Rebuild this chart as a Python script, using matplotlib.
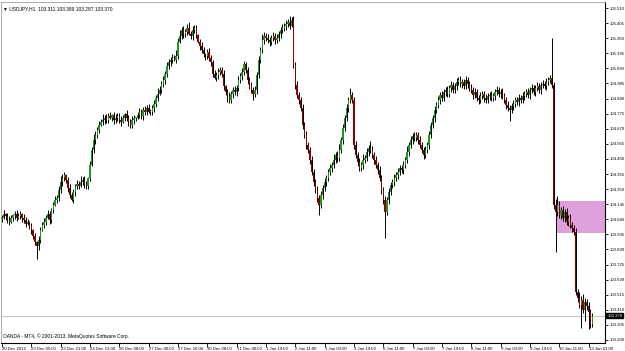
###USDJPY H1 candle chart

'''
Rebuilds a MetaTrader 4 style hourly candle chart of USDJPY.
'''


########################################################################
### Modules ###
########################################################################

import matplotlib
matplotlib.use('Agg')
import matplotlib.pyplot as plt
from matplotlib.patches import Rectangle

plt.rcParams['font.family'] = ['Liberation Sans', 'DejaVu Sans']


########################################################################
### Data ###
########################################################################

#x-axis labels, one every 16 hourly bars
time_labels = [
    '20 Dec 2013', '23 Dec 05:00', '23 Dec 21:00', '24 Dec 13:00',
    '26 Dec 08:00', '27 Dec 00:00', '27 Dec 16:00', '30 Dec 08:00',
    '31 Dec 00:00', '1 Jan 19:00', '2 Jan 11:00', '3 Jan 03:00',
    '3 Jan 19:00', '6 Jan 11:00', '7 Jan 03:00', '7 Jan 19:00',
    '8 Jan 11:00', '9 Jan 03:00', '9 Jan 19:00', '10 Jan 11:00',
    '13 Jan 03:00',
]
label_step = 16

#price axis labels
price_ticks = [
    105.510, 105.405, 105.300, 105.195, 105.090, 104.985, 104.880,
    104.775, 104.670, 104.565, 104.460, 104.355, 104.250, 104.145,
    104.040, 103.935, 103.830, 103.725, 103.620, 103.515, 103.410,
    103.305, 103.200,
]

#open of the first bar, every other bar opens at the previous close
first_open = 104.040

#hourly closes
closes = [
    104.049, 104.077, 104.063, 104.035, 104.021, 104.049, 104.070, 104.077,
    104.049, 104.063, 104.077, 104.049, 104.035, 104.007, 104.021, 103.993,
    103.965, 103.924, 103.882, 103.854, 103.896, 103.965, 104.000, 104.021,
    104.049,
    104.077, 104.035, 104.105, 104.139, 104.174, 104.188, 104.244, 104.299,
    104.327, 104.348, 104.313, 104.258, 104.209, 104.174, 104.230, 104.272,
    104.286, 104.272, 104.299, 104.313, 104.286, 104.272, 104.327, 104.418,
    104.522, 104.592, 104.627, 104.661, 104.696, 104.717, 104.731, 104.745,
    104.731, 104.759, 104.745, 104.766, 104.731, 104.745, 104.759, 104.731,
    104.717, 104.745, 104.773, 104.745, 104.717, 104.696, 104.731, 104.745,
    104.745, 104.766, 104.787, 104.759, 104.801, 104.787, 104.814, 104.787,
    104.787, 104.814, 104.842, 104.884, 104.912, 104.940, 104.981, 105.009,
    105.051, 105.107, 105.135, 105.148, 105.162, 105.148, 105.176, 105.274,
    105.315, 105.357, 105.329, 105.343, 105.371, 105.329, 105.315, 105.357,
    105.371, 105.322, 105.274, 105.246, 105.218, 105.190, 105.176, 105.204,
    105.162, 105.135, 105.051, 105.023, 105.044, 105.065, 105.079, 105.051,
    104.967, 104.926, 104.898, 104.870, 104.912, 104.940, 104.926, 104.954,
    105.009, 105.037, 105.065, 105.121, 105.079, 105.009, 104.967, 104.940,
    104.912, 104.940, 105.044, 105.148, 105.218, 105.288, 105.315, 105.302,
    105.288, 105.274, 105.302, 105.315, 105.288, 105.302, 105.329, 105.357,
    105.371, 105.385, 105.399, 105.413, 105.385, 105.427,
    105.114, 104.974, 104.905, 104.870, 104.814, 104.696, 104.627, 104.557,
    104.522,
    104.453, 104.369, 104.299, 104.244, 104.188, 104.139, 104.209, 104.258,
    104.299, 104.327, 104.369, 104.397, 104.418, 104.453, 104.487, 104.466,
    104.522, 104.592, 104.675, 104.745, 104.814, 104.870, 104.905, 104.870,
    104.557, 104.487, 104.439, 104.397, 104.418, 104.453, 104.466, 104.508,
    104.536, 104.522, 104.487, 104.453, 104.418, 104.383, 104.327, 104.244,
    104.174, 104.091, 104.174, 104.230, 104.279, 104.299, 104.327, 104.348,
    104.369, 104.397, 104.383, 104.418, 104.453, 104.508, 104.557, 104.592,
    104.620, 104.606, 104.627, 104.592, 104.557, 104.522, 104.487, 104.522,
    104.557, 104.627, 104.696, 104.745, 104.801, 104.835, 104.870, 104.905,
    104.884, 104.926, 104.940, 104.912, 104.954, 104.974, 104.940, 104.967,
    104.995, 105.009, 104.981, 104.995, 104.967, 105.009, 104.981, 104.954,
    104.940, 104.905, 104.926, 104.884, 104.870, 104.898, 104.912, 104.884,
    104.870, 104.898, 104.905, 104.884, 104.898, 104.926, 104.940, 104.912,
    104.926, 104.898, 104.870, 104.835, 104.814, 104.801, 104.828, 104.842,
    104.870, 104.856, 104.884, 104.870, 104.898, 104.912, 104.926, 104.905,
    104.940, 104.954, 104.926, 104.954, 104.967, 104.940, 104.974, 104.981,
    104.967, 104.995, 105.009, 105.023, 104.974, 104.139, 104.091, 104.139,
    104.070, 104.105, 104.049, 104.091, 104.021, 104.049, 104.000, 103.979,
    103.951, 103.534, 103.492, 103.444, 103.478, 103.409, 103.464, 103.437,
    103.395, 103.311, 103.370,
]

#upper wicks above the body, in pips
wick_up = [
    2, 3, 1, 2, 3, 2, 1, 2, 3, 2, 2, 1, 3, 2, 2, 1,
    2, 1, 2, 1, 3, 2, 2, 3, 2, 3, 2, 1, 2, 3, 2, 3,
    4, 3, 2, 1, 2, 3, 2, 2, 1, 3, 2, 4, 2, 3, 2, 1,
    3, 2, 4, 3, 2, 3, 2, 4, 2, 3, 2, 3, 1, 2, 3, 2,
    2, 3, 2, 1, 3, 2, 2, 3, 2, 1, 2, 3, 2, 2, 3, 2,
    3, 2, 2, 3, 2, 4, 3, 2, 3, 2, 3, 2, 2, 3, 2, 4,
    3, 4, 2, 3, 2, 3, 4, 2, 3, 2, 2, 1, 2, 3, 2, 1,
    2, 3, 2, 1, 3, 2, 3, 2, 2, 3, 1, 2, 3, 2, 2, 3,
    2, 3, 2, 3, 2, 1, 2, 2, 3, 2, 3, 2, 3, 2, 4, 3,
    2, 3, 2, 2, 3, 2, 3, 2, 2, 3, 2, 3, 2, 4, 2, 3,
    2, 3, 2, 2, 3, 2, 3, 2, 2, 3, 2, 2, 3, 2, 3, 2,
    3, 2, 2, 3, 2, 4, 2, 3, 4, 2, 3, 2, 3, 2, 5, 2,
    2, 3, 2, 3, 2, 4, 2, 3, 2, 5, 3, 2, 3, 2, 3, 2,
    2, 3, 2, 3, 2, 2, 3, 2, 3, 2, 2, 3, 2, 4, 2, 3,
    2, 3, 2, 2, 3, 2, 2, 3, 2, 3, 2, 2, 3, 2, 3, 2,
    3, 2, 2, 3, 2, 3, 2, 2, 3, 2, 3, 2, 2, 3, 2, 2,
    3, 2, 3, 2, 2, 3, 2, 2, 3, 2, 2, 3, 2, 2, 3, 2,
    2, 3, 2, 2, 3, 2, 2, 3, 2, 2, 3, 2, 3, 2, 2, 3,
    2, 3, 2, 2, 3, 2, 2, 3, 2, 3, 2, 2, 28, 2, 4, 6,
    3, 2, 3, 2, 3, 2, 3, 2, 2, 3, 2, 4, 3, 4, 3, 2,
    3, 2, 2,
]

#lower wicks below the body, in pips
wick_dn = [
    2, 1, 3, 2, 2, 1, 2, 3, 2, 1, 2, 3, 2, 2, 1, 2,
    3, 2, 2, 9, 3, 2, 1, 2, 2, 1, 3, 2, 2, 1, 2, 2,
    2, 3, 2, 2, 3, 2, 1, 2, 3, 2, 2, 1, 2, 3, 2, 2,
    2, 1, 2, 3, 2, 2, 1, 2, 3, 2, 2, 1, 2, 3, 2, 2,
    2, 3, 1, 2, 2, 3, 2, 2, 3, 2, 1, 2, 2, 3, 2, 2,
    1, 2, 2, 3, 2, 2, 1, 2, 2, 3, 2, 2, 3, 2, 1, 2,
    2, 1, 2, 3, 2, 2, 1, 2, 3, 2, 2, 1, 3, 2, 2, 3,
    2, 2, 3, 2, 1, 2, 3, 2, 2, 3, 2, 4, 2, 2, 3, 2,
    3, 2, 2, 3, 2, 2, 3, 2, 2, 4, 2, 3, 2, 2, 2, 3,
    2, 2, 3, 2, 2, 3, 2, 2, 3, 2, 2, 3, 2, 2, 1, 2,
    3, 2, 3, 2, 3, 2, 3, 2, 3, 2, 3, 2, 3, 7, 2, 3,
    2, 3, 2, 2, 3, 2, 2, 3, 2, 2, 3, 2, 2, 3, 2, 2,
    3, 2, 3, 2, 2, 3, 2, 2, 3, 2, 2, 3, 2, 3, 2, 3,
    3, 18, 2, 3, 2, 2, 3, 2, 3, 2, 2, 3, 2, 2, 3, 2,
    3, 2, 2, 3, 2, 2, 3, 2, 2, 3, 2, 2, 3, 2, 2, 3,
    2, 2, 3, 2, 2, 3, 2, 2, 3, 2, 2, 3, 2, 2, 3, 2,
    2, 3, 2, 2, 3, 2, 2, 3, 2, 2, 3, 2, 2, 3, 2, 2,
    3, 2, 2, 3, 2, 8, 2, 3, 2, 2, 3, 2, 2, 3, 2, 2,
    3, 2, 2, 3, 2, 2, 3, 2, 2, 3, 2, 2, 2, 3, 28, 3,
    2, 3, 2, 3, 2, 3, 2, 3, 2, 2, 3, 2, 16, 2, 8, 3,
    12, 3, 2,
]

#highlighted zone and header text
zone_low, zone_high, zone_start = 103.945, 104.167, 303
last_price = 103.370
header = '\u25bc USDJPY,H1  103.311 103.389 103.287 103.370'
footer = 'OANDA - MT4, \u00a9 2001-2013, MetaQuotes Software Corp.'


########################################################################
### Build OHLC ###
########################################################################

opens = [first_open] + closes[:-1]
highs = [max(o, c) + u * 0.01 for o, c, u in zip(opens, closes, wick_up)]
lows = [min(o, c) - d * 0.01 for o, c, d in zip(opens, closes, wick_dn)]
idx = list(range(len(closes)))


########################################################################
### Plot ###
########################################################################

fig = plt.figure(figsize=(6.25, 3.51), dpi=100)
ax = fig.add_axes([0.0016, 0.0228, 0.9664, 0.9715])

x_max = 329.0
ax.set_xlim(-0.5, x_max)
ax.set_ylim(103.179, 105.552)

#zone rectangle
ax.add_patch(Rectangle(
    (zone_start - 0.3, zone_low), x_max - zone_start + 0.3,
    zone_high - zone_low, facecolor='#dda0dd', edgecolor='none',
    zorder=1,
))

#current price line
ax.axhline(last_price, color='#c8c8c8', lw=0.8, zorder=1)

#wicks
ax.vlines(idx, lows, highs, color='#000000', lw=0.7, zorder=2)

#bodies
colors = ['#1a9a1a' if c >= o else '#8b0000' for o, c in zip(opens, closes)]
heights = [max(abs(c - o), 0.004) for o, c in zip(opens, closes)]
bottoms = [min(o, c) for o, c in zip(opens, closes)]
ax.bar(idx, heights, bottom=bottoms, width=0.7, color=colors,
       edgecolor='none', zorder=3)

#spines
for side in ['left', 'top']:
    ax.spines[side].set_color('#a0a0a0')
    ax.spines[side].set_linewidth(0.6)
for side in ['right', 'bottom']:
    ax.spines[side].set_color('#000000')
    ax.spines[side].set_linewidth(0.8)

#price axis on the right
ax.yaxis.tick_right()
ax.set_yticks(price_ticks)
ax.set_yticklabels(['%.3f' % p for p in price_ticks])
ax.tick_params(axis='y', direction='out', length=2, width=0.6,
               labelsize=3.1, pad=1.0, colors='#000000')

#time axis
ax.set_xticks([i * label_step for i in range(len(time_labels))])
ax.set_xticklabels(time_labels, ha='left')
ax.tick_params(axis='x', direction='out', length=3, width=0.6,
               labelsize=3.1, pad=0.2, colors='#000000')

#current price box
ax.text(x_max + 1.2, last_price, '%.3f' % last_price, fontsize=3.1,
        color='white', va='center', ha='left', zorder=5,
        bbox=dict(boxstyle='square,pad=0.2', fc='black', ec='black'),
        clip_on=False)

#header and footer
ax.text(0.004, 0.988, header, transform=ax.transAxes, fontsize=3.5,
        va='top', ha='left', color='black')
ax.text(0.004, 0.012, footer, transform=ax.transAxes, fontsize=3.5,
        va='bottom', ha='left', color='black')

fig.savefig('out.png', dpi=100)
